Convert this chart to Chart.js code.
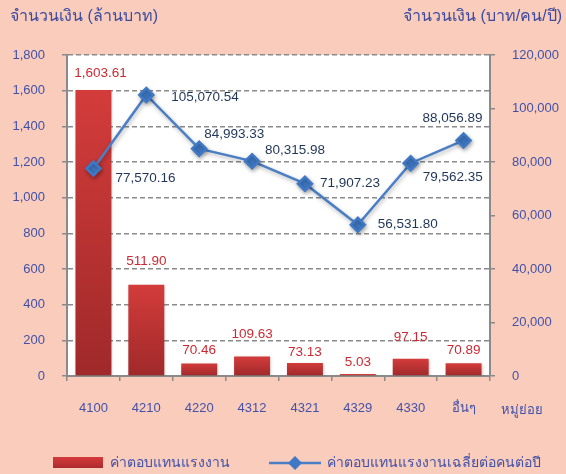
<!DOCTYPE html>
<html lang="th">
<head>
<meta charset="UTF-8">
<title>ค่าตอบแทนแรงงาน</title>
<script src="https://cdn.jsdelivr.net/npm/chart.js"></script>
<style>
    body { margin: 0; background: #f9ccbc; }
    #wrap { width: 566px; height: 474px; }
</style>
</head>
<body>
<div id="wrap"><canvas id="chart" width="566" height="474"></canvas></div>
<script>
    // ข้อมูล
    const categories = ['4100', '4210', '4220', '4312', '4321', '4329', '4330', 'อื่นๆ'];
    const totalPay = [1603.61, 511.90, 70.46, 109.63, 73.13, 5.03, 97.15, 70.89];       // ล้านบาท
    const avgPay = [77570.16, 105070.54, 84993.33, 80315.98, 71907.23, 56531.80, 79562.35, 88056.89]; // บาท/คน/ปี
    const leftTicks = { max: 1800, step: 200 };
    const rightTicks = { max: 120000, step: 20000 };

    const FONT = "Tahoma, 'Liberation Sans', Arial, sans-serif";
    const BLUE = '#4251a8';
    const GRAY = '#8a8a8a';

    // ตำแหน่งป้ายตัวเลข (px)
    const barLabelPos = [[7, 17], [0, 23], [0, 13], [0, 22], [0, 11], [0, 12], [0, 21], [0, 13]];
    const lineLabelPos = [[22, 10], [25, 2], [5, -14], [13, -11], [15, 0], [20, 0], [12, 14], [-41, -22]];

    const fmt = v => v.toLocaleString('en-US', { minimumFractionDigits: 2, maximumFractionDigits: 2 });

    const decor = {
        id: 'decor',
        beforeDraw(chart) {
            const { ctx, chartArea: a } = chart;
            ctx.save();
            ctx.fillStyle = '#f9ccbc';
            ctx.fillRect(0, 0, chart.width, chart.height);
            ctx.fillStyle = '#ffffff';
            ctx.fillRect(a.left, a.top, a.right - a.left, a.bottom - a.top);
            ctx.restore();
        },
        beforeDatasetDraw(chart, args) {
            const ctx = chart.ctx;
            ctx.save();
            if (args.index === 1) {
                ctx.shadowColor = 'rgba(0,0,0,0.3)';
                ctx.shadowBlur = 4;
                ctx.shadowOffsetX = 1;
                ctx.shadowOffsetY = 2;
            } else {
                ctx.shadowColor = 'rgba(0,0,0,0.25)';
                ctx.shadowBlur = 3;
                ctx.shadowOffsetX = 1;
                ctx.shadowOffsetY = 1;
            }
        },
        afterDatasetDraw(chart) {
            chart.ctx.restore();
        },
        afterDraw(chart) {
            const ctx = chart.ctx;
            ctx.save();
            ctx.textBaseline = 'middle';

            // ชื่อแกน
            ctx.font = '16px ' + FONT;
            ctx.fillStyle = '#3d4aa0';
            ctx.textAlign = 'left';
            ctx.fillText('จำนวนเงิน (ล้านบาท)', 10, 17);
            ctx.textAlign = 'right';
            ctx.fillText('จำนวนเงิน (บาท/คน/ปี)', 562, 17);
            ctx.font = '13px ' + FONT;
            ctx.fillStyle = BLUE;
            ctx.textAlign = 'center';
            ctx.fillText('หมู่ย่อย', 522, 410);

            // ป้ายแท่ง
            ctx.font = '13.5px ' + FONT;
            ctx.fillStyle = '#cc2a33';
            chart.getDatasetMeta(0).data.forEach((el, i) => {
                ctx.fillText(fmt(totalPay[i]), el.x + barLabelPos[i][0], el.y - barLabelPos[i][1]);
            });

            // ป้ายเส้น
            ctx.fillStyle = '#1f3557';
            ctx.textAlign = 'left';
            chart.getDatasetMeta(1).data.forEach((el, i) => {
                ctx.fillText(fmt(avgPay[i]), el.x + lineLabelPos[i][0], el.y + lineLabelPos[i][1]);
            });

            // คำอธิบาย
            const g = ctx.createLinearGradient(0, 457, 0, 469);
            g.addColorStop(0, '#d63b3b');
            g.addColorStop(1, '#a8292b');
            ctx.fillStyle = g;
            ctx.fillRect(53, 457, 50, 11);
            ctx.fillStyle = BLUE;
            ctx.font = '14px ' + FONT;
            ctx.fillText('ค่าตอบแทนแรงงาน', 110, 463);

            ctx.strokeStyle = '#4a7fc6';
            ctx.lineWidth = 2.5;
            ctx.beginPath();
            ctx.moveTo(269, 463);
            ctx.lineTo(321, 463);
            ctx.stroke();
            ctx.fillStyle = '#3f78c4';
            ctx.beginPath();
            ctx.moveTo(295, 456); ctx.lineTo(302, 463); ctx.lineTo(295, 470); ctx.lineTo(288, 463);
            ctx.closePath();
            ctx.fill();
            ctx.fillStyle = BLUE;
            ctx.fillText('ค่าตอบแทนแรงงานเฉลี่ยต่อคนต่อปี', 327, 463);
            ctx.restore();
        }
    };

    // ไล่สีในแต่ละแท่ง
    const barFill = (c) => {
        const chart = c.chart;
        const area = chart.chartArea;
        if (!area || c.type !== 'data') return '#c0302f';
        const top = chart.scales.y.getPixelForValue(c.parsed.y);
        const g = chart.ctx.createLinearGradient(0, top, 0, area.bottom);
        g.addColorStop(0, '#d33c3b');
        g.addColorStop(1, '#a0292a');
        return g;
    };

    new Chart(document.getElementById('chart'), {
        data: {
            labels: categories,
            datasets: [{
                type: 'bar',
                label: 'ค่าตอบแทนแรงงาน',
                data: totalPay,
                yAxisID: 'y',
                backgroundColor: barFill,
                barPercentage: 0.68,
                categoryPercentage: 1,
                minBarLength: 2,
                order: 2
            }, {
                type: 'line',
                label: 'ค่าตอบแทนแรงงานเฉลี่ยต่อคนต่อปี',
                data: avgPay,
                yAxisID: 'y1',
                borderColor: '#4a7fc6',
                borderWidth: 2.5,
                pointStyle: 'rectRot',
                pointRadius: 7,
                pointBackgroundColor: '#3f78c4',
                pointBorderColor: '#3f78c4',
                tension: 0,
                order: 1
            }]
        },
        options: {
            responsive: false,
            animation: false,
            layout: { padding: { top: 55, left: 0, right: 0, bottom: 0 } },
            plugins: { legend: { display: false }, tooltip: { enabled: false } },
            scales: {
                x: {
                    afterFit: s => { s.height = 98; },
                    grid: { display: true, drawOnChartArea: false, offset: true, tickLength: 5, color: GRAY, lineWidth: 1.5 },
                    border: { color: GRAY, width: 2 },
                    ticks: { color: BLUE, font: { family: FONT, size: 13 }, padding: 20 }
                },
                y: {
                    position: 'left',
                    min: 0, max: leftTicks.max,
                    afterFit: s => { s.width = 67; },
                    grid: { color: GRAY, lineWidth: 1.5, tickLength: 5, tickBorderDash: [] },
                    border: { color: GRAY, width: 2, dash: [5, 3] },
                    ticks: { stepSize: leftTicks.step, color: BLUE, font: { family: FONT, size: 13 }, padding: 17 }
                },
                y1: {
                    position: 'right',
                    min: 0, max: rightTicks.max,
                    afterFit: s => { s.width = 76; },
                    grid: { drawOnChartArea: false, color: GRAY, lineWidth: 1.5, tickLength: 5 },
                    border: { color: GRAY, width: 2 },
                    ticks: { stepSize: rightTicks.step, color: BLUE, font: { family: FONT, size: 13 }, padding: 17 }
                }
            }
        },
        plugins: [decor]
    });
</script>
</body>
</html>
